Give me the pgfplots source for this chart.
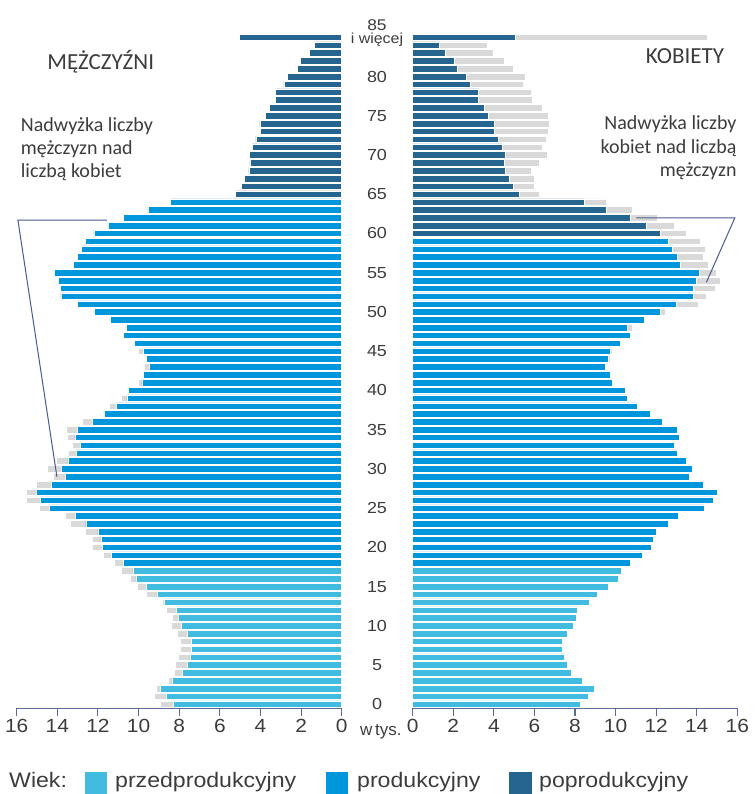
\documentclass[border=0pt]{standalone}
\usepackage{fontspec}
\setmainfont{Liberation Sans}
\newfontfamily\labfont[FakeStretch=1.1]{Liberation Sans}
\newfontfamily\agefont[FakeStretch=1.12]{Liberation Sans}
\newfontfamily\calfont{Carlito}
\usepackage{pgfplots}
\usepackage{pgfplotstable}
\pgfplotsset{compat=1.18}

\definecolor{przed}{HTML}{42BBE0}
\definecolor{prod}{HTML}{0096DB}
\definecolor{popr}{HTML}{25658F}
\definecolor{szary}{HTML}{D9D9D9}
\definecolor{osie}{HTML}{5A6C94}
\definecolor{linia}{HTML}{4A5A8C}
\definecolor{tekst}{HTML}{3C3C3C}

% both = common part, men / women = full value of each sex (in thousands)
\pgfplotstableread{
age both men women
0 8.27 8.92 8.27
1 8.65 9.23 8.65
2 8.94 9.15 8.94
3 8.36 8.56 8.36
4 7.84 8.26 7.84
5 7.61 8.18 7.61
6 7.47 8.03 7.47
7 7.38 7.96 7.38
8 7.38 7.96 7.38
9 7.61 8.10 7.61
10 7.90 8.41 7.90
11 8.05 8.34 8.05
12 8.13 8.65 8.13
13 8.72 8.83 8.72
14 9.10 9.61 9.10
15 9.62 10.05 9.62
16 10.13 10.43 10.13
17 10.28 10.85 10.28
18 10.73 11.18 10.73
19 11.32 11.74 11.32
20 11.77 12.27 11.77
21 11.85 12.27 11.85
22 12.00 12.63 12.00
23 12.59 13.38 12.59
24 13.10 13.61 13.10
25 14.38 14.89 14.38
26 14.82 15.55 14.82
27 15.03 15.55 15.03
28 14.30 15.02 14.30
29 13.62 14.20 13.62
30 13.80 14.48 13.80
31 13.48 14.07 13.48
32 13.06 13.46 13.06
33 12.88 13.25 12.88
34 13.13 13.50 13.13
35 13.03 13.58 13.03
36 12.29 12.76 12.29
37 11.69 11.69 11.69
38 11.09 11.45 11.09
39 10.57 10.85 10.57
40 10.50 10.50 10.50
41 9.84 10.02 9.84
42 9.76 9.76 9.76
43 9.48 9.74 9.48
44 9.63 9.63 9.73
45 9.76 10.02 9.82
46 10.21 10.21 10.21
47 10.73 10.73 10.73
48 10.58 10.58 10.82
49 11.40 11.40 11.40
50 12.18 12.18 12.45
51 13.00 13.00 14.07
52 13.82 13.82 14.47
53 13.85 13.85 14.93
54 13.96 13.96 15.14
55 14.14 14.14 14.98
56 13.21 13.21 14.55
57 13.03 13.03 14.30
58 12.82 12.82 14.40
59 12.62 12.62 14.19
60 12.20 12.20 13.50
61 11.51 11.51 12.89
62 10.73 10.73 12.07
63 9.54 9.54 10.82
64 8.44 8.44 9.56
65 5.23 5.23 6.24
66 4.95 4.95 5.98
67 4.78 4.78 5.99
68 4.57 4.57 5.83
69 4.52 4.52 6.24
70 4.55 4.55 6.63
71 4.40 4.40 6.39
72 4.22 4.22 6.60
73 4.01 4.01 6.67
74 4.03 4.03 6.72
75 3.75 3.75 6.67
76 3.55 3.55 6.40
77 3.25 3.25 5.91
78 3.25 3.25 5.85
79 2.85 2.85 5.44
80 2.66 2.66 5.53
81 2.19 2.19 4.94
82 2.04 2.04 4.52
83 1.59 1.59 3.97
84 1.33 1.33 3.69
85 5.04 5.04 14.53
}\pyramid

\pgfplotsset{
  pyr/.style={
    scale only axis, height=674.8pt,
    xmin=0, xmax=16, ymin=-0.5, ymax=85.5,
    clip=false,
    axis x line=bottom, axis y line=none, ytick=\empty,
    x axis line style={-, draw=osie, line width=1.1pt},
    xtick={0,2,...,16}, tick align=outside, major tick length=8pt,
    xtick style={draw=osie, line width=1.1pt},
    /pgf/number format/assume math mode=true,
    xticklabel style={font=\labfont\fontsize{19}{19}\selectfont, text=tekst},
  },
  bar/.style={xbar, bar shift=0pt, bar width=0.84, draw=white, line width=0.6pt},
}

\begin{document}
\begin{tikzpicture}
\path[use as bounding box] (0,0) rectangle (755pt,794pt);

% men
\begin{axis}[pyr, width=325pt, x dir=reverse, at={(16.7pt,85.8pt)}, anchor=south west]
\addplot[bar, fill=szary] table[x=men, y=age] {\pyramid};
\addplot[bar, fill=przed, restrict y to domain=0:17] table[x=both, y=age] {\pyramid};
\addplot[bar, fill=prod, restrict y to domain=18:64] table[x=both, y=age] {\pyramid};
\addplot[bar, fill=popr, restrict y to domain=65:85] table[x=both, y=age] {\pyramid};
\draw[linia, line width=1pt] (axis cs:11.56,61.7) -- (axis cs:15.94,61.7) -- (axis cs:14.02,29.0);
\end{axis}

% women
\begin{axis}[pyr, width=324.6pt, at={(412.7pt,85.8pt)}, anchor=south west]
\addplot[bar, fill=szary] table[x=women, y=age] {\pyramid};
\addplot[bar, fill=przed, restrict y to domain=0:17] table[x=both, y=age] {\pyramid};
\addplot[bar, fill=prod, restrict y to domain=18:59] table[x=both, y=age] {\pyramid};
\addplot[bar, fill=popr, restrict y to domain=60:85] table[x=both, y=age] {\pyramid};
\draw[linia, line width=1pt] (axis cs:11.03,62.0) -- (axis cs:15.88,62.0) -- (axis cs:14.48,53.8);
\pgfplotsinvokeforeach{0,5,...,80}{
  \node[text=tekst, font=\agefont\fontsize{16}{16}\selectfont] at (axis cs:-1.76,#1) {#1};
}
\node[anchor=base, text=tekst, font=\agefont\fontsize{15.5}{15.5}\selectfont, inner sep=0pt] at (axis cs:-1.76,85.88) {85};
\node[anchor=base, text=tekst, font=\labfont\fontsize{14.5}{14.5}\selectfont, inner sep=0pt] at (axis cs:-1.76,84.15) {i więcej};
\end{axis}

\node[anchor=base, text=tekst, font=\fontsize{17}{17}\selectfont, inner sep=0pt] at (380.8pt,58pt) {w\,tys.};

% titles and notes
\begin{scope}[every node/.style={text=tekst, inner sep=0pt}]
\node[anchor=base, font=\calfont\fontsize{23}{23}\selectfont] at (100.8pt,724pt) {MĘŻCZYŹNI};
\node[anchor=base, font=\calfont\fontsize{23}{23}\selectfont] at (685pt,730.7pt) {KOBIETY};
\node[anchor=base west, font=\calfont\fontsize{20}{20}\selectfont] at (20.7pt,662.3pt) {Nadwyżka liczby};
\node[anchor=base west, font=\calfont\fontsize{20}{20}\selectfont] at (20.7pt,639pt) {mężczyzn nad};
\node[anchor=base west, font=\calfont\fontsize{20}{20}\selectfont] at (20.7pt,616pt) {liczbą kobiet};
\node[anchor=base east, font=\calfont\fontsize{20}{20}\selectfont] at (736.7pt,664pt) {Nadwyżka liczby};
\node[anchor=base east, font=\calfont\fontsize{20}{20}\selectfont] at (736.7pt,640.7pt) {kobiet nad liczbą};
\node[anchor=base east, font=\calfont\fontsize{20}{20}\selectfont] at (736.7pt,617.3pt) {mężczyzn};
\end{scope}

% legend
\begin{scope}[every node/.style={text=tekst, inner sep=0pt, anchor=base west, font=\labfont\fontsize{21}{21}\selectfont}]
\node at (9pt,6pt) {Wiek:};
\fill[przed] (85pt,0pt) rectangle (107pt,22pt);
\node at (115pt,6pt) {przedprodukcyjny};
\fill[prod] (326pt,0pt) rectangle (348pt,22pt);
\node at (357pt,6pt) {produkcyjny};
\fill[popr] (509pt,0pt) rectangle (532pt,22pt);
\node at (539pt,6pt) {poprodukcyjny};
\end{scope}
\end{tikzpicture}
\end{document}
